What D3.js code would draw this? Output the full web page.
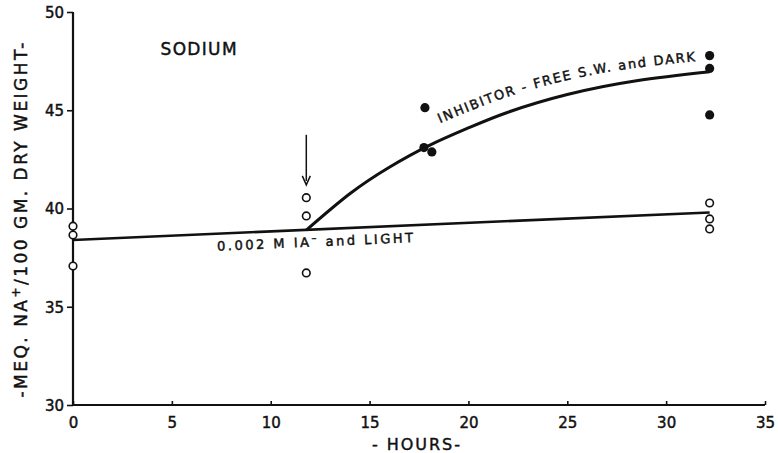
<!DOCTYPE html>
<html>
<head>
<meta charset="utf-8">
<script src="https://cdn.jsdelivr.net/npm/d3@7/dist/d3.min.js"></script>
<style>
  html, body { margin: 0; padding: 0; background: #fff; }
  svg { display: block; }
  text { font-family: "DejaVu Sans", "Liberation Sans", sans-serif; fill: #111; stroke: #111; stroke-width: 0.45px; }
</style>
</head>
<body>
<svg id="chart" width="778" height="453"></svg>
<script>
// Sodium content vs. time, two treatments
const xTicks = [0, 5, 10, 15, 20, 25, 30, 35];
const yTicks = [30, 35, 40, 45, 50];

// 0.002 M IA- and light (open circles)
const lightHours  = [0, 0, 0, 11.8, 11.8, 11.8, 32.2, 32.2, 32.2];
const lightValues = [39.1, 38.65, 37.07, 40.55, 39.62, 36.72, 40.28, 39.47, 38.96];

// inhibitor-free sea water and dark (filled circles)
const darkHours  = [17.8, 17.75, 18.15, 32.2, 32.2, 32.2];
const darkValues = [45.13, 43.1, 42.88, 47.78, 47.13, 44.76];

// fitted lines
const lightFitHours  = [0, 32.2];
const lightFitValues = [38.4, 39.8];
const darkFitHours  = [11.8, 14, 16, 18, 20, 22, 25, 28.5, 32.2];
const darkFitValues = [38.9, 40.75, 42.1, 43.2, 44.1, 44.9, 45.8, 46.5, 46.96];

// arrow marking the transfer time
const arrowHour = 11.8;
const arrowFrom = 43.75;
const arrowTo = 41.2;

const svg = d3.select("#chart");
const x = d3.scaleLinear().domain([0, 35]).range([73, 765]);
const y = d3.scaleLinear().domain([30, 50]).range([405, 12]);

// axes
const yAxis = d3.axisLeft(y).tickValues(yTicks).tickSize(6).tickPadding(3).tickFormat(d3.format("d"));
const gy = svg.append("g").attr("transform", `translate(${x(0)},0)`).call(yAxis);
const xAxis = d3.axisBottom(x).tickValues(xTicks).tickSize(-4).tickPadding(9).tickFormat(d3.format("d"));
const gx = svg.append("g").attr("transform", `translate(0,${y(30)})`).call(xAxis);
[gx, gy].forEach(g => {
  g.select(".domain").attr("stroke", "#111").attr("stroke-width", 2.2);
  g.selectAll(".tick line").attr("stroke", "#111").attr("stroke-width", 1.6);
  g.selectAll(".tick text").attr("font-size", 15).attr("fill", "#111")
    .attr("font-family", "DejaVu Sans, sans-serif");
});
gy.select(".domain").attr("d", `M0,${y(30)}V${y(50)}`);
gx.select(".domain").attr("d", `M${x(0)},0H${x(35)}`);
gx.selectAll(".tick text").attr("dy", "0.9em");
gy.selectAll(".tick text").attr("dy", "0.35em");

// axis titles
svg.append("text")
  .attr("x", 416).attr("y", 450)
  .attr("text-anchor", "middle").attr("font-size", 16)
  .attr("textLength", 88).attr("lengthAdjust", "spacing")
  .text("- HOURS-");

const yl = svg.append("text")
  .attr("transform", "translate(27,220) rotate(-90)")
  .attr("text-anchor", "middle").attr("font-size", 17)
  .attr("textLength", 355).attr("lengthAdjust", "spacing");
yl.append("tspan").text("-MEQ. NA");
yl.append("tspan").attr("dy", -7).attr("font-size", 12).text("+");
yl.append("tspan").attr("dy", 7).text("/100 GM.  DRY  WEIGHT-");

// title
svg.append("text")
  .attr("x", x(6.35)).attr("y", y(47.8))
  .attr("text-anchor", "middle").attr("font-size", 17)
  .attr("textLength", 76).attr("lengthAdjust", "spacing")
  .text("SODIUM");

// fitted lines
const line = d3.line().x(d => x(d[0])).y(d => y(d[1]));
svg.append("path")
  .datum(lightFitHours.map((h, i) => [h, lightFitValues[i]]))
  .attr("d", line)
  .attr("fill", "none").attr("stroke", "#111").attr("stroke-width", 2.6);

const curve = d3.line().x(d => x(d[0])).y(d => y(d[1])).curve(d3.curveNatural);
const darkPath = svg.append("path")
  .datum(darkFitHours.map((h, i) => [h, darkFitValues[i]]))
  .attr("d", curve)
  .attr("fill", "none").attr("stroke", "#111").attr("stroke-width", 3);

// arrow
svg.append("line")
  .attr("x1", x(arrowHour)).attr("x2", x(arrowHour))
  .attr("y1", y(arrowFrom)).attr("y2", y(arrowTo) - 4)
  .attr("stroke", "#111").attr("stroke-width", 1.5);
svg.append("path")
  .attr("d", `M${x(arrowHour) - 4},${y(arrowTo) - 9}L${x(arrowHour)},${y(arrowTo)}L${x(arrowHour) + 4},${y(arrowTo) - 9}`)
  .attr("fill", "none").attr("stroke", "#111").attr("stroke-width", 1.5);

// points
svg.append("g").selectAll("circle")
  .data(lightHours.map((h, i) => [h, lightValues[i]]))
  .join("circle")
  .attr("cx", d => x(d[0])).attr("cy", d => y(d[1])).attr("r", 3.8)
  .attr("fill", "#fff").attr("stroke", "#111").attr("stroke-width", 1.6);

svg.append("g").selectAll("circle")
  .data(darkHours.map((h, i) => [h, darkValues[i]]))
  .join("circle")
  .attr("cx", d => x(d[0])).attr("cy", d => y(d[1])).attr("r", 4.6)
  .attr("fill", "#111");

// label under the light line, parallel to it
const slope = (y(lightFitValues[1]) - y(lightFitValues[0])) / (x(lightFitHours[1]) - x(lightFitHours[0]));
const angle = Math.atan(slope) * 180 / Math.PI;
const lx = x(7.3), ly = y(38.72) + 17;
const lt = svg.append("text")
  .attr("transform", `translate(${lx},${ly}) rotate(${angle})`)
  .attr("font-size", 13)
  .attr("textLength", 196).attr("lengthAdjust", "spacing");
lt.append("tspan").text("0.002 M  IA");
lt.append("tspan").attr("dy", -5).attr("font-size", 10).text("\u2013");
lt.append("tspan").attr("dy", 5).text(" and  LIGHT");

// label above the dark curve, following it
const node = darkPath.node();
const total = node.getTotalLength();
const pts = [];
const x0 = x(18.45), x1 = x(31.6);
for (let s = 0; s <= total; s += 3) {
  const p = node.getPointAtLength(s);
  if (p.x >= x0 && p.x <= x1) pts.push([p.x, p.y]);
}
const off = pts.map((p, i) => {
  const t = i / (pts.length - 1);
  return [p[0], p[1] - (17 - 5 * t)];
});
const labelPath = svg.append("defs").append("path")
  .attr("id", "darkLabelPath")
  .attr("d", d3.line().curve(d3.curveBasis)(off));
svg.append("text")
  .attr("font-size", 13)
  .append("textPath")
  .attr("href", "#darkLabelPath")
  .attr("textLength", labelPath.node().getTotalLength() - 2)
  .attr("lengthAdjust", "spacing")
  .text("INHIBITOR - FREE  S.W.  and  DARK");
</script>
</body>
</html>
